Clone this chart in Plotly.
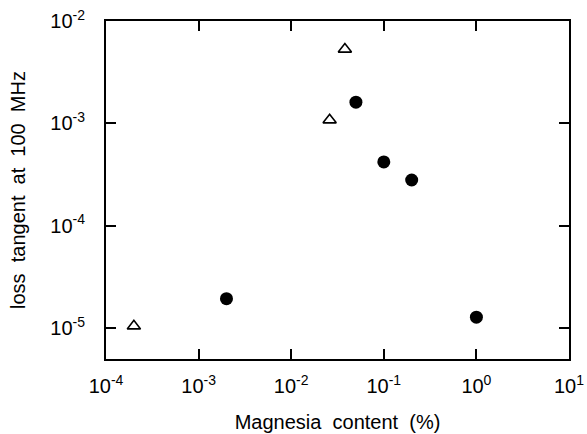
import plotly.graph_objects as go
import numpy as np

# Open triangles
tri_x = [2e-4, 0.026, 0.038]
tri_y = [1.05e-5, 1.08e-3, 5.3e-3]
# Filled circles
cir_x = [2e-3, 0.05, 0.1, 0.2, 1.0]
cir_y = [1.94e-5, 1.61e-3, 4.2e-4, 2.8e-4, 1.28e-5]

x_tickvals = [1e-4, 1e-3, 1e-2, 1e-1, 1e0, 1e1]
x_ticktext = ["10<sup>-4</sup>", "10<sup>-3</sup>", "10<sup>-2</sup>", "10<sup>-1</sup>", "10<sup>0</sup>", "10<sup>1</sup>"]
y_tickvals = [1e-5, 1e-4, 1e-3, 1e-2]
y_ticktext = ["10<sup>-5</sup>", "10<sup>-4</sup>", "10<sup>-3</sup>", "10<sup>-2</sup>"]

FONT = "Liberation Sans, Arial, sans-serif"

fig = go.Figure()
fig.add_trace(go.Scatter(x=tri_x, y=tri_y, mode="markers",
                         marker=dict(symbol="triangle-up-open", size=11.5, color="black",
                                     line=dict(width=1.6, color="black")),
                         showlegend=False))
fig.add_trace(go.Scatter(x=cir_x, y=cir_y, mode="markers",
                         marker=dict(symbol="circle", size=13, color="black"),
                         showlegend=False))

axis_common = dict(showline=True, linecolor="black", linewidth=2, mirror="ticks",
                   ticks="inside", ticklen=10, tickwidth=1.6, tickcolor="black",
                   showgrid=False, zeroline=False, automargin=False,
                   tickfont=dict(family=FONT, size=20, color="black"))

fig.update_xaxes(type="log", range=[-4, 1], tickvals=x_tickvals, ticktext=x_ticktext,
                 ticklabelstandoff=8,
                 title=dict(text="Magnesia  content  (%)", standoff=19,
                            font=dict(family=FONT, size=20, color="black")),
                 **axis_common)
fig.update_yaxes(type="log", range=[np.log10(5e-6), -2], tickvals=y_tickvals, ticktext=y_ticktext,
                 ticklabelstandoff=15,
                 title=dict(text="loss  tangent  at  100  MHz", standoff=19,
                            font=dict(family=FONT, size=20, color="black")),
                 **axis_common)

fig.update_layout(width=587, height=434, margin=dict(l=106, r=18, t=21, b=75),
                  font=dict(family=FONT, size=20, color="black"),
                  paper_bgcolor="white", plot_bgcolor="white")

fig.write_html("out.html")
